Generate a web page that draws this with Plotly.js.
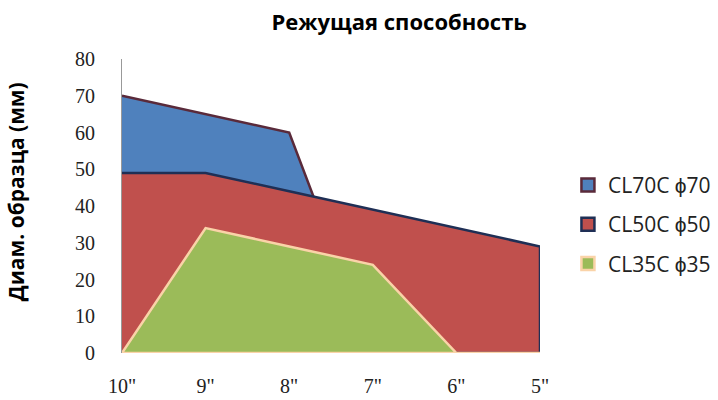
<!DOCTYPE html>
<html>
<head>
<meta charset="utf-8">
<script src="https://cdn.plot.ly/plotly-3.0.1.min.js"></script>
<style>html,body{margin:0;padding:0;background:#fff;}#chart{width:718px;height:400px;}</style>
</head>
<body>
<div id="chart"></div>
<script>
const categories = ['10"', '9"', '8"', '7"', '6"', '5"'];
const cl70 = [70, 65, 60, 0, 0, 0];
const cl50 = [49, 49, 44, 39, 34, 29];
const cl35 = [0, 34, 29, 24, 0, 0];
const seriesNames = ['CL70C \u03D570', 'CL50C \u03D550', 'CL35C \u03D535'];
const yTicks = [0, 10, 20, 30, 40, 50, 60, 70, 80];

const idx = categories.map((c, i) => i);
function poly(vals) {
  return {
    x: idx.concat([idx[idx.length - 1], idx[0]]),
    y: vals.concat([0, 0])
  };
}
const styles = [
  {fill: '#4F81BD', line: '#5A2A3A'},
  {fill: '#C0504D', line: '#1F2F55'},
  {fill: '#9BBB59', line: '#FAD3A8'}
];
const data = [];
[cl70, cl50, cl35].forEach((vals, k) => {
  const p = poly(vals);
  data.push({
    type: 'scatter', mode: 'lines', x: p.x, y: p.y,
    fill: 'toself', fillcolor: styles[k].fill,
    line: {color: styles[k].line, width: 2.5},
    name: seriesNames[k], showlegend: false,
    hoverinfo: 'skip'
  });
});
seriesNames.forEach((nm, k) => {
  data.push({
    type: 'scatter', mode: 'markers', x: [null], y: [null],
    name: nm, legendgroup: 'g' + k,
    marker: {symbol: 'square', size: 13, color: styles[k].fill,
             line: {color: styles[k].line, width: 2.5}}
  });
});

const layout = {
  width: 718, height: 400,
  margin: {l: 122, r: 178, t: 59, b: 47, autoexpand: false},
  paper_bgcolor: '#fff', plot_bgcolor: '#fff',
  title: {text: '<b>Режущая способность</b>', x: 0.556, xanchor: 'center', y: 0.945, yanchor: 'middle',
          font: {family: 'Open Sans, sans-serif', size: 22, color: '#000'}},
  xaxis: {
    range: [0, 5], tickvals: idx, ticktext: categories,
    showgrid: false, zeroline: false, showline: false, ticks: '',
    tickfont: {family: 'Liberation Serif, serif', size: 20, color: '#222'},
    ticklabelstandoff: 19
  },
  yaxis: {
    range: [0, 80], tickvals: yTicks, showgrid: false, zeroline: false,
    showline: true, linecolor: '#999', linewidth: 1, ticks: '',
    tickfont: {family: 'Liberation Serif, serif', size: 20, color: '#222'},
    ticklabelstandoff: 22
  },
  annotations: [{
    text: '<b>Диам. образца (мм)</b>', xref: 'paper', yref: 'paper',
    x: -0.255, y: 0.548, xanchor: 'center', yanchor: 'middle', textangle: -90,
    showarrow: false, font: {family: 'Open Sans, sans-serif', size: 21, color: '#000'}
  }],
  legend: {
    xref: 'container', x: 0.791, xanchor: 'left', y: 0.64, yanchor: 'top',
    traceorder: 'grouped', tracegroupgap: 9,
    font: {family: 'Open Sans, sans-serif', size: 21, color: '#222'},
    itemwidth: 30
  },
  showlegend: true
};
Plotly.newPlot('chart', data, layout, {displayModeBar: false, staticPlot: true});
</script>
</body>
</html>
